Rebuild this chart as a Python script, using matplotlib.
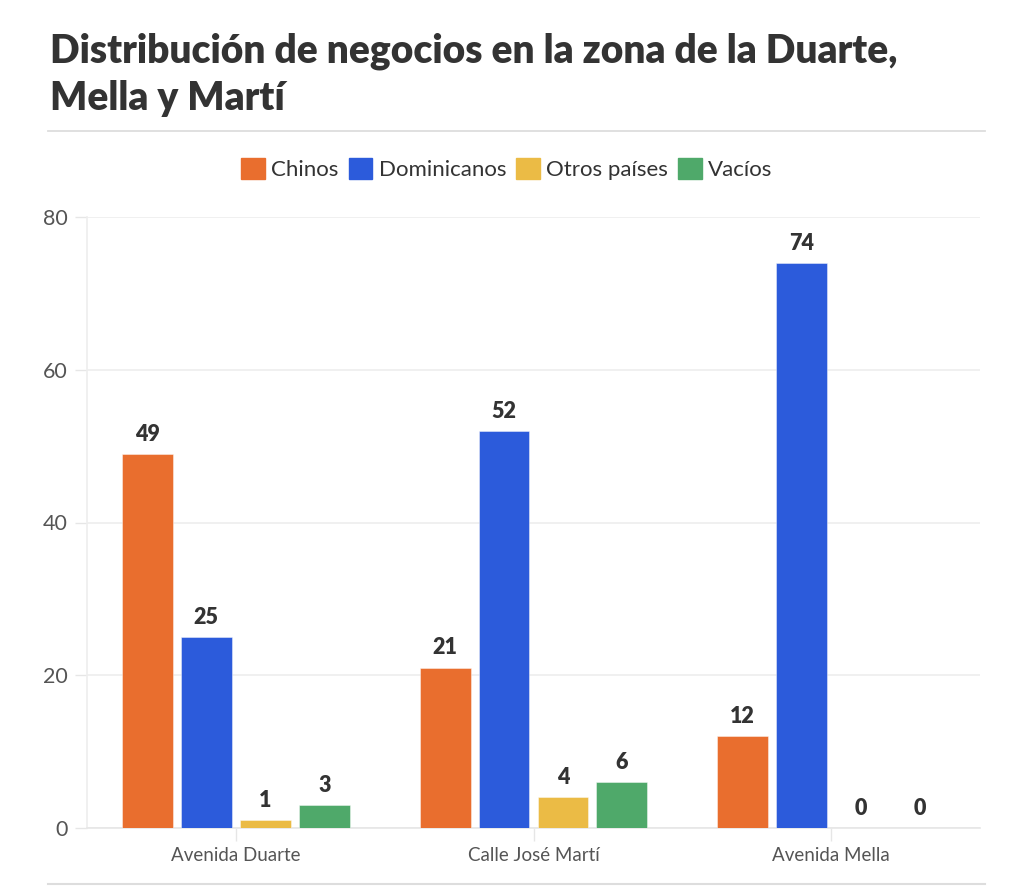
import numpy as np
import matplotlib
matplotlib.use("Agg")
from matplotlib import pyplot as plt
from matplotlib.lines import Line2D

plt.rcParams['font.family'] = ['Lato', 'DejaVu Sans']

# data
calles = ["Avenida Duarte", "Calle José Martí", "Avenida Mella"]
series = ["Chinos", "Dominicanos", "Otros países", "Vacíos"]
chinos = [49, 21, 12]
dominicanos = [25, 52, 74]
otros = [1, 4, 0]
vacios = [3, 6, 0]
valores = [chinos, dominicanos, otros, vacios]
colores = ["#E96E2E", "#2C5BDB", "#EBBB45", "#4FA96A"]

fig = plt.figure(figsize=(10.24, 8.86), dpi=100)
ax = fig.add_axes([87/1024, 1 - 828/886, 893/1024, 611/886])

x = np.arange(len(calles))
paso = 0.198
ancho = 0.171
for i, (vals, col) in enumerate(zip(valores, colores)):
    pos = x + (i - 1.5) * paso
    ax.bar(pos, vals, width=ancho, color=col, edgecolor=(1, 1, 1, 0.5), linewidth=0.6, zorder=3)
    for p, v in zip(pos, vals):
        ax.text(p, v + 1.2, str(v), ha="center", va="bottom", fontsize=15.5,
                fontweight="heavy", color="#333333", zorder=4)

ax.set_xlim(-0.5, 2.5)
ax.set_ylim(0, 80)
ax.set_yticks([0, 20, 40, 60, 80])
ax.set_xticks(x)
ax.set_xticklabels(calles)
ax.tick_params(axis="y", labelsize=15.5, colors="#e6e6e6", labelcolor="#555555", length=9, width=1, pad=5)
ax.tick_params(axis="x", labelsize=13.5, colors="#e6e6e6", labelcolor="#555555", length=9, width=1, pad=5)
ax.grid(axis="y", color="#eeeeee", linewidth=1.2, zorder=0)
for s in ["top", "right"]:
    ax.spines[s].set_visible(False)
ax.spines["left"].set_color("#eeeeee")
ax.spines["bottom"].set_color("#e6e6e6")
ax.spines["left"].set_linewidth(1.2)
ax.spines["bottom"].set_linewidth(1.2)

# title
fig.text(50/1024, 1 - 63/886, "Distribución de negocios en la zona de la Duarte,",
         fontsize=28, fontweight="heavy", color="#333333", va="baseline")
fig.text(50/1024, 1 - 110/886, "Mella y Martí",
         fontsize=28, fontweight="heavy", color="#333333", va="baseline")
fig.add_artist(Line2D([48/1024, 985/1024], [1 - 131/886, 1 - 131/886], color="#dddddd", lw=1.3))
fig.add_artist(Line2D([48/1024, 985/1024], [1 - 884/886, 1 - 884/886], color="#dddddd", lw=1.5))

# legend
fig.legend(handles=[plt.Rectangle((0, 0), 1, 1, color=c) for c in colores], labels=series,
           loc="center", bbox_to_anchor=(507/1024, 1 - 169/886),
           ncol=4, frameon=False, fontsize=16, handlelength=1.05, handleheight=1.05,
           handletextpad=0.3, columnspacing=0.45, labelcolor="#333333")

fig.savefig("out.png", dpi=100)
